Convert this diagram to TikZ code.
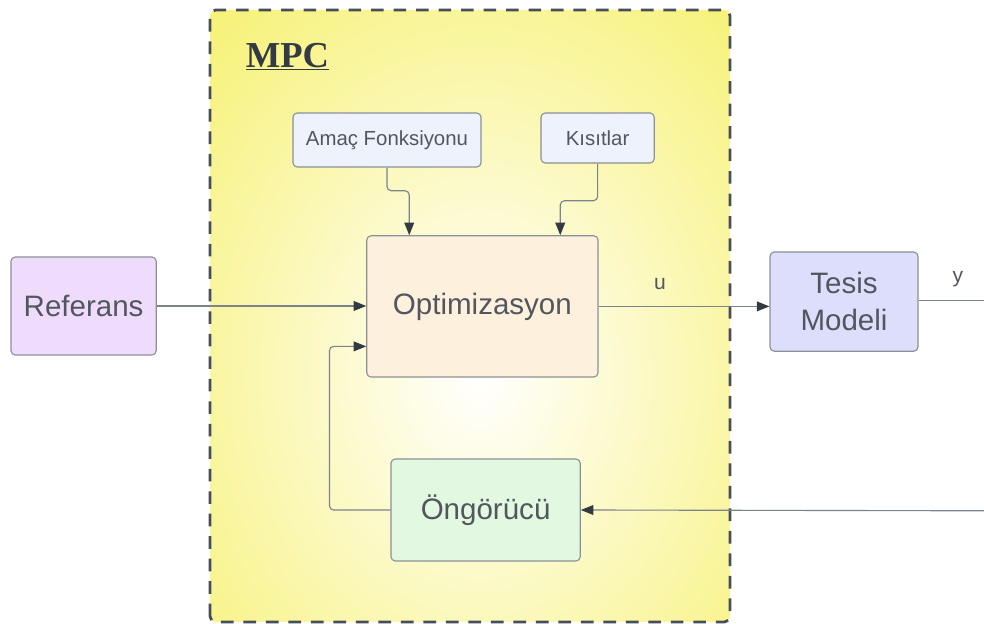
\documentclass[tikz,border=0pt]{standalone}
\usepackage{fontspec}
\setmainfont{Liberation Sans}
\newfontfamily\mpcfont{Liberation Serif}
\usetikzlibrary{calc,arrows.meta}
\definecolor{mpcyel}{RGB}{247,242,122}
\definecolor{txtgray}{RGB}{82,86,94}
\definecolor{lingray}{RGB}{125,131,140}
\definecolor{boxgray}{RGB}{140,145,152}
\definecolor{arrdark}{RGB}{52,58,68}
\definecolor{refcol}{RGB}{239,220,253}
\definecolor{tescol}{RGB}{221,221,252}
\definecolor{optcol}{RGB}{253,240,221}
\definecolor{ongcol}{RGB}{226,248,224}
\definecolor{smallcol}{RGB}{237,242,252}
\tikzset{
  blok/.style={draw=boxgray, line width=0.8pt, rounded corners=3pt, inner sep=0pt,
    text=txtgray, font=\fontsize{21}{26}\selectfont, align=center},
  kucuk/.style={blok, font=\fontsize{14.5}{17}\selectfont},
  conn/.style={draw=lingray, line width=0.8pt, rounded corners=3pt,
    -{Triangle[length=9pt,width=7pt,fill=arrdark,color=arrdark]}},
  plain/.style={draw=lingray, line width=0.8pt, rounded corners=3pt},
  etiket/.style={text=txtgray, font=\fontsize{15}{18}\selectfont}
}
\begin{document}
\begin{tikzpicture}
		%%%%% START %%%%%
		\useasboundingbox (0, 0) rectangle (24.6, 15.6);
		
		% MPC kutusu
		\begin{scope}
			\clip[rounded corners=4pt] (5.25, 0.05) rectangle (18.25, 15.35);
			\fill[mpcyel] (5.25, 0.05) rectangle (18.25, 15.35);
			\begin{scope}[shift={(12, 6.2)}, yscale=1.25]
				\shade[inner color=white, outer color=mpcyel] (0, 0) circle (9.6);
			\end{scope}
		\end{scope}
		\draw[color=arrdark!90, line width=2pt, rounded corners=4pt, dash pattern=on 9pt off 7pt]
			(5.25, 0.05) rectangle (18.25, 15.35);
		\node[anchor=base west, text=arrdark, font=\mpcfont\bfseries\fontsize{26}{30}\selectfont]
			(mpc) at (6.02, 13.92) {\underline{MPC}};
		
		% bloklar
		\node[blok, fill=refcol, minimum width=3.63cm, minimum height=2.45cm] (ref) at (2.09, 7.95) {Referans};
		\node[blok, fill=optcol, minimum width=5.78cm, minimum height=3.53cm] (opt) at (12.06, 7.94) {Optimizasyon};
		\node[blok, fill=tescol, minimum width=3.7cm, minimum height=2.48cm] (tes) at (21.1, 8.06) {Tesis\\Modeli};
		\node[blok, fill=ongcol, minimum width=4.73cm, minimum height=2.55cm] (ong) at (12.14, 2.85) {Öngörücü};
		\node[kucuk, fill=smallcol, minimum width=4.7cm, minimum height=1.35cm] (amac) at (9.675, 12.1) {Amaç Fonksiyonu};
		\node[kucuk, fill=smallcol, minimum width=2.83cm, minimum height=1.25cm] (kis) at (14.94, 12.15) {Kısıtlar};
		
		% baglantilar
		\coordinate (cikis) at (24.6, 8.08);
		\coordinate (giris) at (24.6, 2.83);
		\draw[conn] (amac.south) -- ++(0, -0.58) -| ($(opt.north west)+(1.075, 0)$);
		\draw[conn] (kis.south) -- ++(0, -0.93) -| ($(opt.north west)+(4.85, 0)$);
		\draw[conn] (ref.east) -- (ref.east -| opt.west);
		\draw[conn] (opt.east) -- (opt.east -| tes.west);
		\draw[plain] (tes.east |- cikis) -- (cikis);
		\draw[conn] (giris) -- (ong.east);
		\draw[conn] (ong.west) -- ++(-1.525, 0) |- ($(opt.west)+(0, -1)$);
		
		\node[etiket] (u) at (16.5, 8.5) {u};
		\node[etiket] (y) at (23.95, 8.62) {y};
		%%%%% END %%%%%
	\end{tikzpicture}
\end{document}
